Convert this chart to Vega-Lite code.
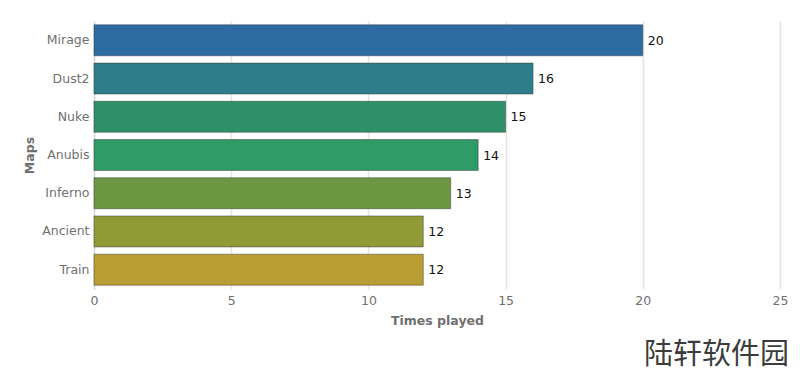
{
  "$schema": "https://vega.github.io/schema/vega-lite/v6.json",
  "width": 686,
  "height": 268,
  "autosize": {"type": "none"},
  "padding": {"left": 94, "top": 21, "right": 20, "bottom": 88},
  "background": "white",
  "title": {
    "text": "陆轩软件园",
    "orient": "bottom",
    "anchor": "end",
    "font": "Noto Sans CJK SC",
    "fontSize": 29,
    "fontWeight": "normal",
    "color": "#3c3c3c",
    "offset": 14,
    "dx": 1
  },
  "data": {
    "values": [
      {"map": "Mirage", "played": 20, "fill": "#2c6ca3"},
      {"map": "Dust2", "played": 16, "fill": "#2d7d8a"},
      {"map": "Nuke", "played": 15, "fill": "#2e9068"},
      {"map": "Anubis", "played": 14, "fill": "#2f9b66"},
      {"map": "Inferno", "played": 13, "fill": "#6c9642"},
      {"map": "Ancient", "played": 12, "fill": "#929a38"},
      {"map": "Train", "played": 12, "fill": "#b89d32"}
    ]
  },
  "encoding": {
    "y": {
      "field": "map",
      "type": "nominal",
      "sort": null,
      "scale": {"paddingInner": 0.19, "paddingOuter": 0.1},
      "axis": {
        "title": "Maps",
        "titleFont": "DejaVu Sans",
        "titleFontSize": 12.5,
        "titleFontWeight": "bold",
        "titleColor": "#707070",
        "titlePadding": 5,
        "labelFont": "DejaVu Sans",
        "labelFontSize": 12.5,
        "labelColor": "#707070",
        "labelPadding": 5,
        "ticks": false,
        "domainColor": "#d8d8d8",
        "domainWidth": 1.5,
        "grid": false
      }
    },
    "x": {
      "field": "played",
      "type": "quantitative",
      "scale": {"domain": [0, 25], "nice": false},
      "axis": {
        "title": "Times played",
        "titleFont": "DejaVu Sans",
        "titleFontSize": 12.5,
        "titleFontWeight": "bold",
        "titleColor": "#707070",
        "titlePadding": 8,
        "labelFont": "DejaVu Sans",
        "labelFontSize": 12.5,
        "labelColor": "#707070",
        "labelPadding": 5,
        "labelFlush": false,
        "values": [0, 5, 10, 15, 20, 25],
        "ticks": false,
        "domain": false,
        "grid": true,
        "gridColor": "#e4e4e4",
        "gridWidth": 1.5,
        "format": "d"
      }
    }
  },
  "layer": [
    {
      "mark": {"type": "bar", "strokeWidth": 1, "strokeOpacity": 0.45, "stroke": "#333333"},
      "encoding": {
        "fill": {"field": "fill", "type": "nominal", "scale": null}
      }
    },
    {
      "mark": {"type": "text", "align": "left", "dx": 5, "dy": 0.5, "font": "DejaVu Sans", "fontSize": 12.5, "color": "#111111"},
      "encoding": {
        "text": {"field": "played", "type": "quantitative"}
      }
    }
  ],
  "config": {"view": {"stroke": null}}
}
